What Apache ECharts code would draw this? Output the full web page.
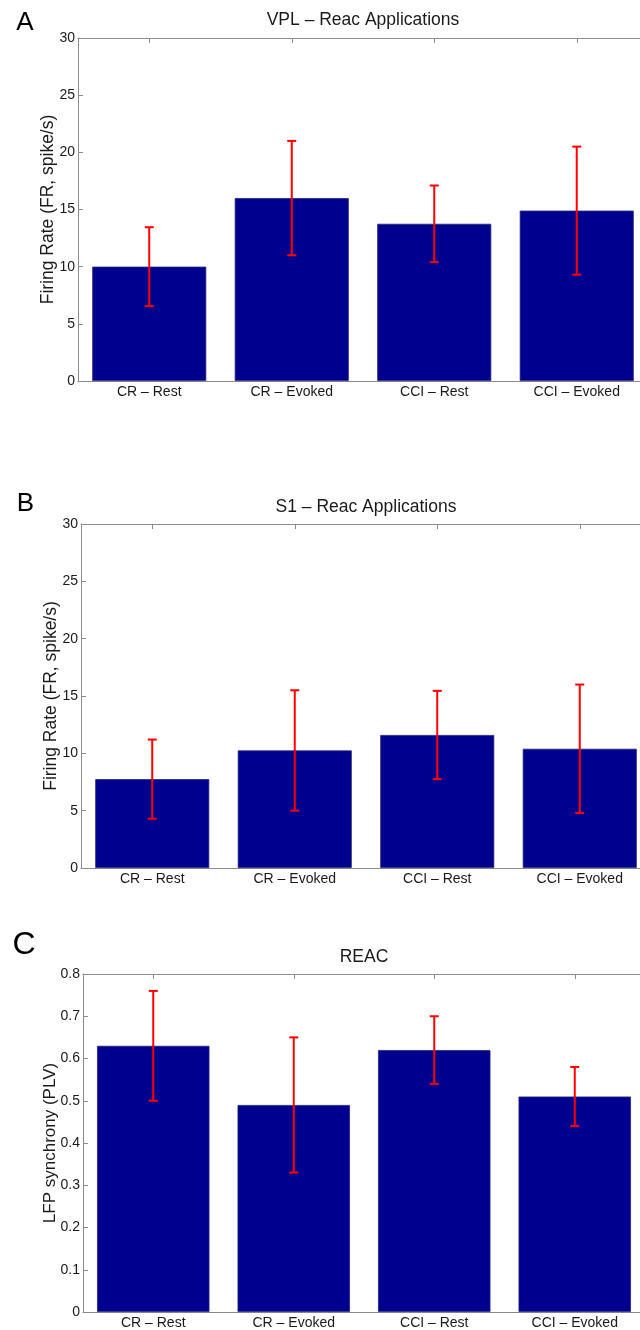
<!DOCTYPE html>
<html>
<head>
<meta charset="utf-8">
<title>Firing rate and LFP synchrony</title>
<script src="https://cdn.jsdelivr.net/npm/echarts@6/dist/echarts.min.js"></script>
<style>
  html, body { margin: 0; padding: 0; background: #ffffff; overflow: hidden; }
  /* the axes boxes run slightly past the right edge of the page */
  #chart { width: 660px; height: 1330px; }
</style>
</head>
<body>
<div id="chart"></div>
<script>
// Conditions shown on every panel
const categories = ['CR \u2013 Rest', 'CR \u2013 Evoked', 'CCI \u2013 Rest', 'CCI \u2013 Evoked'];

// Panel A: VPL firing rate (mean and error half-width)
const vplMean = [10.0, 16.0, 13.75, 14.9];
const vplErr = [3.45, 5.0, 3.35, 5.6];

// Panel B: S1 firing rate
const s1Mean = [7.75, 10.25, 11.6, 10.4];
const s1Err = [3.45, 5.25, 3.85, 5.6];

// Panel C: LFP synchrony (PLV)
const reacMean = [0.63, 0.49, 0.62, 0.51];
const reacErr = [0.13, 0.16, 0.08, 0.07];

const panelTitles = ['VPL \u2013 Reac Applications', 'S1 \u2013 Reac Applications', 'REAC'];
const panelLetters = ['A', 'B', 'C'];
const yNames = ['Firing Rate (FR, spike/s)', 'Firing Rate (FR, spike/s)', 'LFP synchrony (PLV)'];
const yMax = [30, 30, 0.8];
const yStep = [5, 5, 0.1];

const means = [vplMean, s1Mean, reacMean];
const errs = [vplErr, s1Err, reacErr];

// Layout of the three stacked axes boxes
const grids = [
  { left: 78, top: 38, width: 570, height: 343 },
  { left: 81, top: 524, width: 570, height: 344 },
  { left: 83, top: 974, width: 562, height: 339 }
];
const titleY = [20, 507, 957];
const nameGaps = [21, 21, 24];
const nameSizes = [17.5, 17.5, 17];
const letterPos = [[25, 22.5], [25.5, 504], [24, 945]];
const letterSize = [26, 26, 32];

const axisGray = '#8c8c8c';
const textColor = '#1a1a1a';
const font = '"Liberation Sans", Arial, Helvetica, sans-serif';

const xAxes = [];
const yAxes = [];
const series = [];

for (let i = 0; i < 3; i++) {
  // bottom category axis with labels
  xAxes.push({
    type: 'category', gridIndex: i, data: categories, position: 'bottom',
    axisLine: { show: true, onZero: false, lineStyle: { color: axisGray, width: 1.2 } },
    axisTick: { show: false },
    axisLabel: { color: textColor, fontSize: 14, fontFamily: font, margin: 4 },
    splitLine: { show: false }
  });
  // left value axis with labels and name
  yAxes.push({
    type: 'value', gridIndex: i, min: 0, max: yMax[i], interval: yStep[i], position: 'left',
    name: yNames[i], nameLocation: 'middle', nameRotate: 90, nameGap: nameGaps[i],
    nameMoveOverlap: false,
    nameTextStyle: { color: textColor, fontSize: nameSizes[i], fontFamily: font },
    axisLine: { show: true, onZero: false, lineStyle: { color: axisGray } },
    axisTick: { show: true, inside: true, length: 5, lineStyle: { color: axisGray } },
    axisLabel: { color: textColor, fontSize: 14, fontFamily: font, margin: 3 },
    splitLine: { show: false }
  });
}
for (let i = 0; i < 3; i++) {
  // top and right edges of the box, ticks only
  xAxes.push({
    type: 'category', gridIndex: i, data: categories, position: 'top',
    axisLine: { show: true, onZero: false, lineStyle: { color: axisGray } },
    axisTick: { show: true, inside: true, alignWithLabel: true, length: 5, lineStyle: { color: axisGray } },
    axisLabel: { show: false }, splitLine: { show: false }
  });
  yAxes.push({
    type: 'value', gridIndex: i, min: 0, max: yMax[i], interval: yStep[i], position: 'right',
    axisLine: { show: true, onZero: false, lineStyle: { color: axisGray } },
    axisTick: { show: true, inside: true, length: 5, lineStyle: { color: axisGray } },
    axisLabel: { show: false }, splitLine: { show: false }
  });
}

function renderErrorBar(params, api) {
  const idx = api.value(0);
  const lo = api.coord([idx, api.value(1)]);
  const hi = api.coord([idx, api.value(2)]);
  const hw = 4.5;
  const style = { stroke: '#ff0000', lineWidth: 2 };
  return {
    type: 'group',
    children: [
      { type: 'line', shape: { x1: hi[0], y1: hi[1], x2: lo[0], y2: lo[1] }, style: style },
      { type: 'line', shape: { x1: hi[0] - hw, y1: hi[1], x2: hi[0] + hw, y2: hi[1] }, style: style },
      { type: 'line', shape: { x1: lo[0] - hw, y1: lo[1], x2: lo[0] + hw, y2: lo[1] }, style: style }
    ]
  };
}

for (let i = 0; i < 3; i++) {
  series.push({
    type: 'bar', xAxisIndex: i, yAxisIndex: i, data: means[i], barWidth: '80%',
    itemStyle: { color: '#00008f', borderColor: '#23237a', borderWidth: 0.8 },
    silent: true, animation: false
  });
  const errData = means[i].map((m, k) => [k, m - errs[i][k], m + errs[i][k]]);
  series.push({
    type: 'custom', xAxisIndex: i, yAxisIndex: i, data: errData,
    encode: { x: 0, y: [1, 2] }, renderItem: renderErrorBar,
    z: 5, silent: true, animation: false
  });
}

// Panel titles and panel letters as free text
const graphics = [];
for (let i = 0; i < 3; i++) {
  graphics.push({
    type: 'text', x: grids[i].left + grids[i].width / 2, y: titleY[i],
    style: {
      text: panelTitles[i], fontSize: 17.5, fontFamily: font, fill: textColor,
      textAlign: 'center', textVerticalAlign: 'middle'
    }
  });
  graphics.push({
    type: 'text', x: letterPos[i][0], y: letterPos[i][1],
    style: {
      text: panelLetters[i], fontSize: letterSize[i], fontFamily: font, fill: '#000000',
      textAlign: 'center', textVerticalAlign: 'middle'
    }
  });
}

const chart = echarts.init(document.getElementById('chart'), null, { renderer: 'canvas' });
chart.setOption({
  backgroundColor: '#ffffff',
  animation: false,
  grid: grids.map(g => Object.assign({ containLabel: false }, g)),
  xAxis: xAxes,
  yAxis: yAxes,
  graphic: graphics,
  series: series
});
</script>
</body>
</html>
